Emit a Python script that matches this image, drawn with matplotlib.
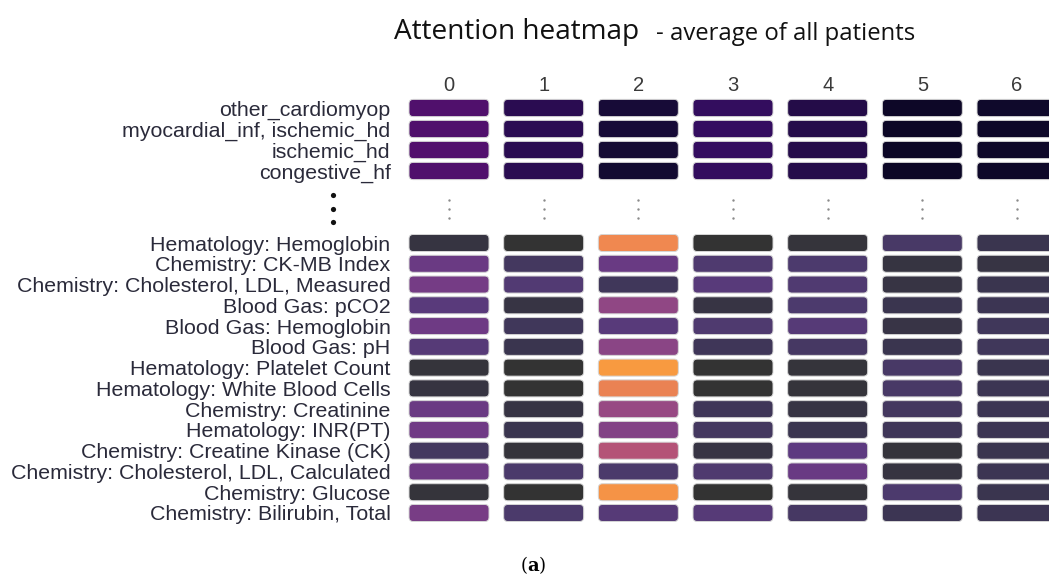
import matplotlib
matplotlib.use("Agg")
import matplotlib.pyplot as plt
from matplotlib.colors import LinearSegmentedColormap
from matplotlib.patches import FancyBboxPatch
import numpy as np

plt.rcParams['mathtext.fontset'] = 'dejavuserif'

# %% data
columns = ["0", "1", "2", "3", "4", "5", "6"]

diag_labels = ["other_cardiomyop", "myocardial_inf, ischemic_hd",
               "ischemic_hd", "congestive_hf"]
diag_vals = np.array([
    [0.96, 0.58, 0.30, 0.73, 0.48, 0.10, 0.15],
    [0.96, 0.60, 0.30, 0.75, 0.50, 0.08, 0.13],
    [0.98, 0.58, 0.26, 0.75, 0.50, 0.08, 0.13],
    [0.96, 0.58, 0.24, 0.73, 0.50, 0.08, 0.13],
])

lab_labels = ["Hematology: Hemoglobin", "Chemistry: CK-MB Index",
              "Chemistry: Cholesterol, LDL, Measured", "Blood Gas: pCO2",
              "Blood Gas: Hemoglobin", "Blood Gas: pH",
              "Hematology: Platelet Count", "Hematology: White Blood Cells",
              "Chemistry: Creatinine", "Hematology: INR(PT)",
              "Chemistry: Creatine Kinase (CK)",
              "Chemistry: Cholesterol, LDL, Calculated",
              "Chemistry: Glucose", "Chemistry: Bilirubin, Total"]
lab_vals = np.array([
    [0.05, 0.00, 0.90, 0.00, 0.03, 0.18, 0.10],
    [0.37, 0.16, 0.36, 0.22, 0.21, 0.05, 0.06],
    [0.42, 0.24, 0.14, 0.27, 0.23, 0.06, 0.10],
    [0.28, 0.06, 0.53, 0.06, 0.21, 0.10, 0.11],
    [0.39, 0.14, 0.27, 0.22, 0.26, 0.07, 0.14],
    [0.26, 0.10, 0.50, 0.13, 0.17, 0.10, 0.14],
    [0.03, 0.00, 1.00, 0.00, 0.03, 0.18, 0.10],
    [0.05, 0.00, 0.86, 0.00, 0.03, 0.18, 0.11],
    [0.37, 0.06, 0.56, 0.13, 0.06, 0.16, 0.11],
    [0.40, 0.10, 0.47, 0.16, 0.10, 0.13, 0.11],
    [0.16, 0.03, 0.68, 0.06, 0.30, 0.03, 0.10],
    [0.39, 0.20, 0.20, 0.22, 0.36, 0.05, 0.11],
    [0.03, 0.00, 0.96, 0.00, 0.03, 0.21, 0.10],
    [0.43, 0.20, 0.26, 0.26, 0.17, 0.11, 0.11],
])

# %% colormaps
top_cmap = LinearSegmentedColormap.from_list(
    "top", ["#080520", "#140b32", "#250c4a", "#340d60", "#55106e"])
lab_cmap = LinearSegmentedColormap.from_list("lab", [
    (0.0, "#333333"), (0.1, "#3a3550"), (0.2, "#4b3a6b"), (0.3, "#5d3a80"),
    (0.4, "#703a85"), (0.5, "#8a4585"), (0.6, "#a04c82"), (0.7, "#b85575"),
    (0.8, "#e07858"), (0.9, "#f08850"), (1.0, "#f89a40")])

W, H = 1049, 579
fig = plt.figure(figsize=(W / 100, H / 100), dpi=100)
fig.patch.set_facecolor("white")

col_step = (1017 - 449) / 6
ax_left = (449 - col_step / 2) / W
ax_width = 7 * col_step / W
label_color = "#2a2a3a"
label_size = 15.4


def draw_cells(ax, vals, cmap, px_per_row):
    nrow, ncol = vals.shape
    cw, ch = 0.845, 0.82
    aspect = col_step / px_per_row
    for r in range(nrow):
        for c in range(ncol):
            ax.add_patch(FancyBboxPatch(
                (c - cw / 2, r - ch / 2), cw, ch,
                boxstyle="round,pad=0,rounding_size=0.045",
                mutation_aspect=aspect, fc=cmap(vals[r, c]),
                ec="#d6d6d6", lw=0.7))
    ax.set_xlim(-0.5, ncol - 0.5)
    ax.set_ylim(nrow - 0.5, -0.5)
    for s in ax.spines.values():
        s.set_visible(False)
    ax.tick_params(length=0)


# top block (diagnoses)
top_px = 21
ax_top = fig.add_axes([ax_left, 1 - 181.5 / H, ax_width, 4 * top_px / H])
draw_cells(ax_top, diag_vals, top_cmap, top_px)
ax_top.set_yticks(range(len(diag_labels)))
ax_top.set_yticklabels(diag_labels, fontsize=label_size, color=label_color,
                       family="Liberation Sans")
ax_top.xaxis.tick_top()
ax_top.set_xticks(range(len(columns)))
ax_top.set_xticklabels(columns, fontsize=14.5, color="#3a3a3a",
                       family="Liberation Sans")
ax_top.tick_params(axis="y", pad=8)
ax_top.tick_params(axis="x", pad=2)

# bottom block (lab tests)
lab_px = (513 - 243) / 13
ax_lab = fig.add_axes([ax_left, 1 - (513 + lab_px / 2) / H, ax_width,
                       14 * lab_px / H])
draw_cells(ax_lab, lab_vals, lab_cmap, lab_px)
ax_lab.set_yticks(range(len(lab_labels)))
ax_lab.set_yticklabels(lab_labels, fontsize=label_size, color=label_color,
                       family="Liberation Sans")
ax_lab.set_xticks([])
ax_lab.tick_params(axis="y", pad=8)

# ellipsis between blocks
ax_mid = fig.add_axes([ax_left, 1 - 231 / H, ax_width, 45 / H])
ax_mid.set_xlim(-0.5, len(columns) - 0.5)
ax_mid.set_ylim(2.5, -2.5)
ax_mid.axis("off")
for c in range(len(columns)):
    ax_mid.scatter([c] * 3, [-1, 0, 1], s=3, color="#8a8a8a", lw=0)
big_x = (333 - 449) / col_step
ax_mid.scatter([big_x] * 3, [-1.45, 0, 1.45], s=14, color="#111111",
               lw=0, clip_on=False)

# title
fig.text(394 / W, 1 - 32 / H, "Attention heatmap", fontsize=20.2,
         family="Open Sans", va="center", ha="left", color="#111111")
fig.text(656 / W, 1 - 34 / H, "- average of all patients", fontsize=17.2,
         family="Open Sans", va="center", ha="left", color="#111111")

fig.text(533 / W, 1 - 565 / H, r"($\mathbf{a}$)", fontsize=13,
         family="DejaVu Serif", ha="center", va="center")

fig.savefig("out.png", dpi=100)
